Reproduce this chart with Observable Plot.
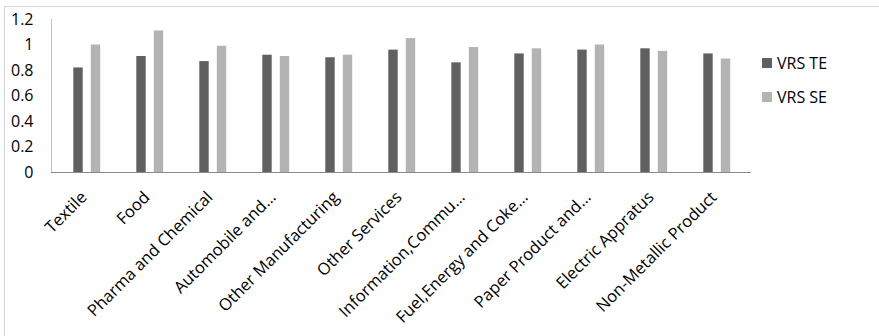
<!DOCTYPE html>
<html>
<head>
<meta charset="utf-8">
<script src="https://cdn.jsdelivr.net/npm/d3@7"></script>
<script src="https://cdn.jsdelivr.net/npm/@observablehq/plot@0.6"></script>
<style>
  html, body { margin: 0; padding: 0; background: #fff; }
  #wrap { position: relative; width: 879px; height: 336px; overflow: hidden; font-family: "Open Sans", sans-serif; }
  #border { position: absolute; left: 4px; top: 6px; width: 1000px; height: 1000px;
            border-top: 1px solid #d4d4d4; border-left: 1px solid #d4d4d4; pointer-events: none; }
  .leg { position: absolute; left: 762px; display: flex; align-items: center; font-size: 16px; color: #000; }
  .leg .sw { width: 10px; height: 10px; margin-right: 5px; }
  .yax text { font-size: 16px; }
  .xax text { font-size: 16.5px; }
</style>
</head>
<body>
<div id="wrap">
  <div id="chart"></div>
  <div id="border"></div>
  <div class="leg" style="top:52px"><div class="sw" style="background:#606060"></div><span>VRS TE</span></div>
  <div class="leg" style="top:86px"><div class="sw" style="background:#b3b3b3"></div><span>VRS SE</span></div>
</div>
<script>
const categories = ["Textile", "Food", "Pharma and Chemical", "Automobile and…", "Other Manufacturing",
  "Other Services", "Information,Commu…", "Fuel,Energy and Coke…", "Paper Product and…",
  "Electric Appratus", "Non-Metallic Product"];
const vrsTE = [0.82, 0.91, 0.87, 0.92, 0.90, 0.96, 0.86, 0.93, 0.96, 0.97, 0.93];
const vrsSE = [1.00, 1.11, 0.99, 0.91, 0.92, 1.05, 0.98, 0.97, 1.00, 0.95, 0.89];
const yTicks = [0, 0.2, 0.4, 0.6, 0.8, 1, 1.2];

const data = categories.map((c, i) => ({cat: c, te: vrsTE[i], se: vrsSE[i]}));

const chart = Plot.plot({
  width: 879,
  height: 336,
  marginLeft: 51,
  marginRight: 128,
  marginTop: 19,
  marginBottom: 164,
  style: {background: "transparent", fontFamily: "Open Sans, sans-serif", fontSize: "15px", color: "#000", overflow: "visible"},
  x: {domain: categories, padding: 0, label: null},
  y: {domain: [0, 1.2], label: null},
  marks: [
    Plot.frame({anchor: "left", stroke: "#c0c0c0"}),
    Plot.barY(data, {x: "cat", y: "te", fill: "#606060", insetLeft: 18.3, insetRight: 35.3}),
    Plot.barY(data, {x: "cat", y: "se", fill: "#b3b3b3", insetLeft: 35.8, insetRight: 17.8}),
    Plot.ruleY([0], {stroke: "#8a8a8a", strokeWidth: 1.2}),
    Plot.axisY({ticks: yTicks, tickFormat: d => String(+d.toFixed(1)), tickSize: 0, tickPadding: 18,
      className: "yax", label: null}),
    Plot.axisX({tickSize: 0, tickPadding: 22, dx: -3, tickRotate: -45, className: "xax", label: null})
  ]
});
document.getElementById("chart").appendChild(chart);
</script>
</body>
</html>
